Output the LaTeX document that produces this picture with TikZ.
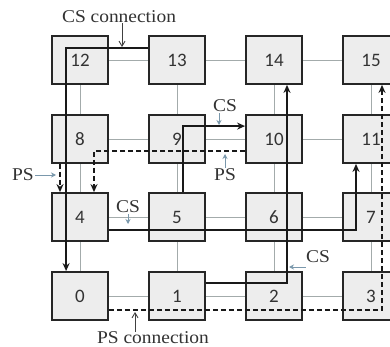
\documentclass[tikz,border=0pt]{standalone}
\usepackage{fontspec}
\usepackage{graphicx}
\setmainfont{Liberation Serif}
\newfontfamily\numfont{Carlito}
\usetikzlibrary{arrows.meta,backgrounds}
\newcommand{\hs}[1]{\scalebox{1.08}[1]{#1}}
\definecolor{boxfill}{HTML}{EDEDED}
\definecolor{linkgray}{HTML}{A3ABAB}
\definecolor{labblue}{HTML}{7A98AC}
\tikzset{
  box/.style={draw=black!85, line width=1.8pt, fill=boxfill, minimum width=56pt, minimum height=48pt, inner sep=0pt, font=\numfont\fontsize{19}{21}\selectfont, text=black!80},
  link/.style={draw=linkgray, line width=0.9pt},
  cs/.style={draw=black!90, line width=2pt, -{Stealth[length=8pt,width=7pt]}},
  ps/.style={draw=black!90, line width=2pt, dash pattern=on 5pt off 3pt, -{Stealth[length=8pt,width=7pt]}},
  lab/.style={font=\fontsize{18}{20}\selectfont, text=black!80, inner sep=0pt},
  labarrow/.style={draw=labblue, line width=0.9pt, -{Stealth[length=5pt,width=5pt]}},
  blkarrow/.style={draw=black!75, line width=0.9pt, -{Straight Barb[length=5pt,width=6pt]}}
}
\begin{document}
\begin{tikzpicture}[x=1pt,y=-1pt]
\useasboundingbox (0,0) rectangle (390,347);
\clip (0,0) rectangle (390,347);
% boxes
\node[box] (n12) at (80,60) {12};
\node[box] (n13) at (177,60) {13};
\node[box] (n14) at (274,60) {14};
\node[box] (n15) at (371,60) {15};
\node[box] (n8) at (80,139) {8};
\node[box] (n9) at (177,139) {9};
\node[box] (n10) at (274,139) {10};
\node[box] (n11) at (371,139) {11};
\node[box] (n4) at (80,217) {4};
\node[box] (n5) at (177,217) {5};
\node[box] (n6) at (274,217) {6};
\node[box] (n7) at (371,217) {7};
\node[box] (n0) at (80,296) {0};
\node[box] (n1) at (177,296) {1};
\node[box] (n2) at (274,296) {2};
\node[box] (n3) at (371,296) {3};
\begin{scope}[on background layer]
\fill[white] (0,0) rectangle (390,347);
\foreach \a/\b in {n12/n13,n13/n14,n14/n15,n8/n9,n9/n10,n10/n11,n4/n5,n5/n6,n6/n7,n0/n1,n1/n2,n2/n3,
  n12/n8,n8/n4,n4/n0,n13/n9,n9/n5,n5/n1,n14/n10,n10/n6,n6/n2,n15/n11,n11/n7,n7/n3}
  \draw[link] (\a.center) -- (\b.center);
\end{scope}
% CS / PS connections
\draw[cs] ([yshift=-13pt]n13.north west) -| ([xshift=15pt]n0.north west);
\draw[cs] ([xshift=6pt]n5.north) |- ([yshift=-12pt]n10.north west);
\draw[ps] ([yshift=-37pt]n10.north west) -| ([xshift=14pt]n4.north);
\draw[ps] ([xshift=-20pt]n8.south) -- ([xshift=-20pt]n4.north);
\draw[cs] ([yshift=-13pt]n4.east) -| ([xshift=-15pt]n11.south);
\draw[cs] ([yshift=13pt]n1.east) -| ([xshift=13pt]n14.south);
\draw[ps] ([yshift=-14pt]n0.east) -| ([xshift=11pt]n15.south);
% labels
\node[lab] (csc) at (119,17) {\hs{CS connection}};
\coordinate (cscT) at (122,47);
\draw[blkarrow] (csc.south -| cscT) -- (cscT);
\node[lab] (psc) at (153,338) {\hs{PS connection}};
\coordinate (pscT) at (135,312);
\draw[blkarrow] (psc.north -| pscT) -- (pscT);
\node[lab] (cs1) at (225,106) {\hs{CS}};
\coordinate (cs1T) at (219,125);
\draw[labarrow] ([yshift=-1pt]cs1.south -| cs1T) -- (cs1T);
\node[lab] (ps1) at (225,175) {\hs{PS}};
\coordinate (ps1T) at (225,154);
\draw[labarrow] ([yshift=1pt]ps1.north -| ps1T) -- (ps1T);
\node[lab] (ps2) at (23,175) {\hs{PS}};
\coordinate (ps2T) at (56,175);
\draw[labarrow] ([xshift=1pt]ps2.east) -- (ps2T);
\node[lab] (cs2) at (128,207) {\hs{CS}};
\coordinate (cs2T) at (128,224);
\draw[labarrow] ([yshift=-1pt]cs2.south -| cs2T) -- (cs2T);
\node[lab] (cs3) at (318,257) {\hs{CS}};
\coordinate (cs3T) at (289,267);
\draw[labarrow] (cs3.south west |- cs3T) -- (cs3T);
\end{tikzpicture}
\end{document}
